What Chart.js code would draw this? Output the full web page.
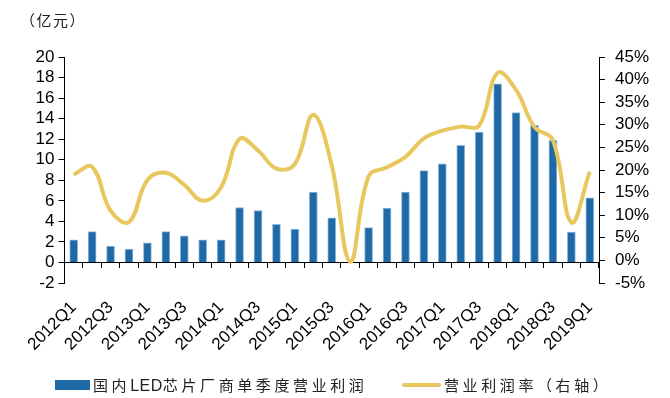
<!DOCTYPE html>
<html>
<head>
<meta charset="utf-8">
<script src="https://cdn.jsdelivr.net/npm/chart.js@4/dist/chart.umd.min.js"></script>
<style>
  html, body { margin: 0; padding: 0; background: #fff; }
  #wrap { position: relative; width: 670px; height: 398px; overflow: hidden; }
  #c { position: absolute; left: 0; top: 0; }
  .unit { position: absolute; left: 20px; top: 9px; font: 15px "Noto Sans CJK SC", sans-serif; letter-spacing: 1.5px; color: #222; }
  .legend { position: absolute; top: 374px; left: 0; width: 670px; height: 22px; font: 15px "Noto Sans CJK SC", sans-serif; color: #222; }
  .legend .item { position: absolute; top: 0; height: 22px; line-height: 22px; white-space: nowrap; letter-spacing: 3.6px; }
  .legend .lat { font-family: "Liberation Sans", Arial, sans-serif; font-size: 16px; letter-spacing: 0.5px; }
  .sw-bar { position: absolute; top: 6px; width: 35px; height: 10px; background: #1f6aa6; }
  .sw-line { position: absolute; top: 9px; width: 39px; height: 4px; border-radius: 2px; background: #e8c75e; }
</style>
</head>
<body>
<div id="wrap">
  <canvas id="c" width="670" height="398"></canvas>
  <div class="unit">（亿元）</div>
  <div class="legend">
    <div class="sw-bar" style="left:55px"></div>
    <div class="item" style="left:93px">国内<span class="lat">LED</span>芯片厂商单季度营业利润</div>
    <div class="sw-line" style="left:402px"></div>
    <div class="item" style="left:444px">营业利润率（右轴）</div>
  </div>
</div>
<script>
const categories = [
  '2012Q1','2012Q2','2012Q3','2012Q4',
  '2013Q1','2013Q2','2013Q3','2013Q4',
  '2014Q1','2014Q2','2014Q3','2014Q4',
  '2015Q1','2015Q2','2015Q3','2015Q4',
  '2016Q1','2016Q2','2016Q3','2016Q4',
  '2017Q1','2017Q2','2017Q3','2017Q4',
  '2018Q1','2018Q2','2018Q3','2018Q4',
  '2019Q1'
];
// 国内LED芯片厂商单季度营业利润（亿元）
const operatingProfit = [
  2.2, 3.0, 1.6, 1.3,
  1.9, 3.0, 2.6, 2.2,
  2.2, 5.35, 5.05, 3.7,
  3.25, 6.85, 4.35, 0,
  3.4, 5.3, 6.85, 8.95,
  9.6, 11.4, 12.7, 17.4,
  14.6, 13.35, 11.9, 2.95,
  6.3
];
// 营业利润率（%，右轴）
const operatingMargin = [
  19.0, 20.7, 11.0, 8.5,
  17.8, 19.4, 16.7, 13.2,
  16.2, 26.9, 24.3, 20.3,
  21.3, 32.2, 21.0, -0.3,
  18.6, 20.6, 22.9, 27.0,
  28.7, 29.6, 29.8, 41.5,
  37.7, 29.5, 26.6, 8.4,
  19.6
];
const leftTicks = [-2, 0, 2, 4, 6, 8, 10, 12, 14, 16, 18, 20];
const rightTicks = [-5, 0, 5, 10, 15, 20, 25, 30, 35, 40, 45];

const tickFont = { family: '"Liberation Sans", Arial, sans-serif', size: 17 };

new Chart(document.getElementById('c'), {
  data: {
    labels: categories,
    datasets: [
      {
        type: 'line',
        label: '营业利润率（右轴）',
        data: operatingMargin,
        yAxisID: 'y1',
        borderColor: '#e8c75e',
        borderWidth: 4,
        pointRadius: 0,
        tension: 0.4,
        fill: false,
        order: 0
      },
      {
        type: 'bar',
        label: '国内LED芯片厂商单季度营业利润',
        data: operatingProfit,
        yAxisID: 'y',
        backgroundColor: '#1f6aa6',
        borderColor: '#8fb8da',
        borderWidth: { top: 1, left: 1, right: 1, bottom: 0 },
        barThickness: 8,
        order: 1
      }
    ]
  },
  options: {
    responsive: false,
    animation: false,
    layout: { padding: { left: 0, right: 0, top: 57, bottom: 115 } },
    plugins: { legend: { display: false }, tooltip: { enabled: false } },
    scales: {
      x: {
        type: 'category',
        position: { y: 0 },
        offset: true,
        grid: { display: true, offset: true, drawOnChartArea: false, drawTicks: true, tickLength: 5, color: '#000', lineWidth: 1 },
        border: { display: true, color: '#000', width: 1 },
        ticks: {
          autoSkip: false,
          maxRotation: 45,
          minRotation: 45,
          padding: 30,
          color: '#000',
          font: tickFont,
          callback: function (v, i) { return i % 2 === 0 ? categories[i] : ''; }
        }
      },
      y: {
        position: 'left',
        min: leftTicks[0],
        max: leftTicks[leftTicks.length - 1],
        afterBuildTicks: function (s) { s.ticks = leftTicks.map(v => ({ value: v })); },
        grid: { drawOnChartArea: false, drawTicks: true, tickLength: 6, color: '#000' },
        border: { display: true, color: '#000', width: 1 },
        ticks: { autoSkip: false, color: '#000', font: tickFont, padding: 4 },
        afterFit: function (s) { s.width = 53; }
      },
      y1: {
        position: 'right',
        min: rightTicks[0],
        max: rightTicks[rightTicks.length - 1],
        afterBuildTicks: function (s) { s.ticks = rightTicks.map(v => ({ value: v })); },
        grid: { drawOnChartArea: false, drawTicks: true, tickLength: 6, color: '#000' },
        border: { display: true, color: '#000', width: 1 },
        ticks: { autoSkip: false, color: '#000', font: tickFont, padding: 10, callback: v => v + '%' },
        afterFit: function (s) { s.width = 71; }
      }
    }
  }
});
</script>
</body>
</html>
